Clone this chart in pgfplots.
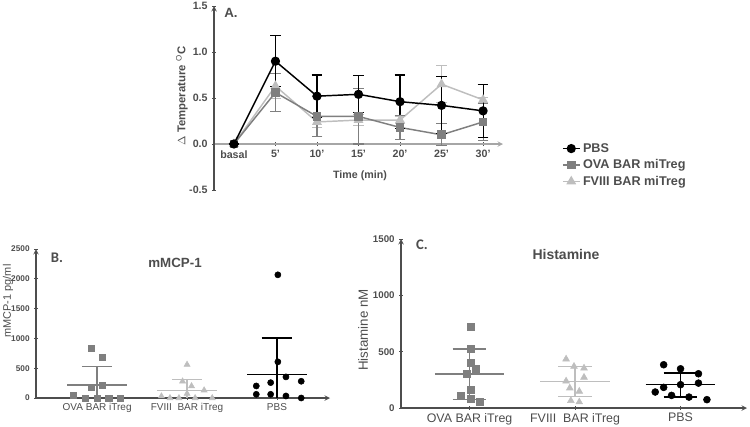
\documentclass[border=0pt]{standalone}
\usepackage{pgfplots}
\pgfplotsset{compat=1.18}
\usepackage{fontspec}
\setmainfont{Liberation Sans}
\newfontfamily\calfont{Carlito}
\definecolor{ova}{HTML}{7F7F7F}
\definecolor{fviii}{HTML}{BEBEBE}
\definecolor{axgray}{HTML}{4D4D4D}

\pgfplotsset{
  panel/.style={
    scale only axis, anchor=south west, clip=false,
    tick align=outside, major tick length=2.5pt,
    every tick/.style={axgray, line width=0.6pt},
    axis line style={-, axgray, line width=0.8pt},
    /pgf/number format/1000 sep={},
    /pgf/number format/assume math mode=true,
    scaled y ticks=false,
  },
  meanline/.style={mark=none, line width=1pt},
}

\begin{document}
\begin{tikzpicture}
\path[use as bounding box] (0pt,0pt) rectangle (562.5pt,319.5pt);

% ---------------- A. temperature ----------------
\begin{axis}[panel,
  at={(160.5pt,177pt)}, width=216.75pt, height=138pt,
  xmin=-0.48, xmax=6.48, ymin=-0.5, ymax=1.5,
  axis y line=left, axis x line=middle,
  x axis line style={gray!70},
  xtick={0,...,6}, xticklabels={basal,5',10',15',20',25',30'},
  ytick={-0.5,0,0.5,1,1.5},
  yticklabel style={/pgf/number format/.cd,fixed,fixed zerofill,precision=1},
  tick label style={font=\fontsize{8}{9}\selectfont\bfseries, text=axgray},
  reverse legend,
  legend cell align=left,
  legend image code/.code={
    \draw[mark repeat=2, mark phase=2] plot coordinates {(0cm,0cm) (0.22cm,0cm) (0.44cm,0cm)};},
  legend style={at={(axis description cs:1.19,0.285)}, anchor=north west,
    draw=none, fill=none, font=\fontsize{9.5}{11}\selectfont\bfseries,
    row sep=0pt, text=axgray},
]
% FVIII BAR miTreg
\addplot+[fviii, line width=1.1pt, mark=triangle*, mark size=3.2pt,
  mark options={fill=fviii, draw=fviii},
  error bars/.cd, y dir=both, y explicit,
  error bar style={fviii, line width=0.8pt},
  error mark options={rotate=90, mark size=4pt, fviii, line width=0.8pt}]
  coordinates {
  (0,0) +- (0,0)
  (1,0.63) +- (0,0.14)
  (2,0.24) +- (0,0.06)
  (3,0.26) +- (0,0.06)
  (4,0.26) +- (0,0.04)
  (5,0.65) +- (0,0.20)
  (6,0.48) +- (0,0.03)
  };
% OVA BAR miTreg
\addplot+[ova, line width=1.1pt, mark=square*, mark size=2.7pt,
  mark options={fill=ova, draw=ova},
  error bars/.cd, y dir=both, y explicit,
  error bar style={ova, line width=0.8pt},
  error mark options={rotate=90, mark size=4pt, ova, line width=0.8pt}]
  coordinates {
  (0,0) +- (0,0)
  (1,0.56) +- (0,0.21)
  (2,0.30) +- (0,0.22)
  (3,0.30) +- (0,0.30)
  (4,0.18) +- (0,0.13)
  (5,0.10) +- (0,0.12)
  (6,0.24) +- (0,0.20)
  };
% PBS
\addplot+[black, line width=1.1pt, mark=*, mark size=2.9pt,
  mark options={fill=black, draw=black},
  error bars/.cd, y dir=both, y explicit,
  error bar style={black, line width=0.8pt},
  error mark options={rotate=90, mark size=4pt, black, line width=0.8pt}]
  coordinates {
  (0,0) +- (0,0)
  (1,0.90) +- (0,0.28)
  (2,0.52) +- (0,0.23)
  (3,0.54) +- (0,0.20)
  (4,0.46) +- (0,0.29)
  (5,0.42) +- (0,0.31)
  (6,0.36) +- (0,0.29)
  };
\legend{FVIII BAR miTreg, OVA BAR miTreg, PBS}
\end{axis}
\node[font=\fontsize{10}{11}\selectfont\bfseries, text=axgray] at (173.25pt,309.75pt) {A.};
\node[font=\fontsize{8}{9}\selectfont\bfseries, text=axgray] at (270pt,187.5pt) {Time (min)};
\node[rotate=90, font=\fontsize{8.5}{9}\selectfont\bfseries, text=axgray] at (136.5pt,247.5pt)
  {$\Delta$ Temperature $^{\mathrm{O}}$C};

% ---------------- B. mMCP-1 ----------------
\begin{axis}[panel,
  at={(27pt,21pt)}, width=220.5pt, height=111.75pt,
  xmin=-0.68, xmax=2.59, ymin=0, ymax=2500,
  axis lines=left,
  xtick={0,1,2}, xticklabels={OVA BAR iTreg, FVIII\ \ BAR iTreg, PBS},
  ytick={0,500,1000,1500,2000,2500},
  x tick label style={font=\fontsize{7.5}{8}\selectfont, text=axgray, yshift=1pt},
  y tick label style={font=\fontsize{6.2}{7}\selectfont\bfseries, text=axgray},
]
% OVA
\addplot[only marks, mark=square*, mark size=2.3pt, ova] coordinates {
  (-0.27,40) (-0.13,0) (0,0) (0.13,0) (0.26,0)
  (-0.07,830) (0.06,685) (-0.07,185) (0.06,208)};
\addplot[meanline, ova] coordinates {(-0.33,216) (0.33,216)};
\addplot[meanline, ova] coordinates {(0,0) (0,534)};
\addplot[meanline, ova] coordinates {(-0.17,534) (0.17,534)};
% FVIII
\addplot[only marks, mark=triangle*, mark size=2.6pt, fviii] coordinates {
  (0.715,30) (0.81,0) (0.91,0) (1,73) (1.09,0) (1.28,0)
  (0.95,280) (1.05,200) (1.19,130) (1,560)};
\addplot[meanline, fviii] coordinates {(0.67,127) (1.33,127)};
\addplot[meanline, fviii] coordinates {(1,0) (1,309)};
\addplot[meanline, fviii] coordinates {(0.83,309) (1.17,309)};
% PBS
\addplot[only marks, mark=*, mark size=2.3pt, black] coordinates {
  (1.77,202) (1.77,62) (1.93,258) (1.93,62) (2.01,607)
  (2.01,2067) (2.10,354) (2.10,34) (2.27,281) (2.27,0)};
\addplot[meanline, black] coordinates {(1.67,393) (2.33,393)};
\addplot[meanline, black] coordinates {(2,0) (2,1008)};
\addplot[meanline, black] coordinates {(1.83,1008) (2.17,1008)};
\end{axis}
\node[font=\calfont\fontsize{11}{12}\selectfont\bfseries, text=axgray] at (42.75pt,126pt) {B.};
\node[font=\fontsize{10}{11}\selectfont\bfseries, text=axgray] at (131.25pt,122.25pt) {mMCP-1};
\node[rotate=90, font=\fontsize{8.2}{9}\selectfont, text=axgray] at (6pt,93.75pt) {mMCP-1 pg/ml};

% ---------------- C. Histamine ----------------
\begin{axis}[panel,
  at={(300.75pt,13.5pt)}, width=259.5pt, height=126.75pt,
  xmin=-0.65, xmax=2.63, ymin=0, ymax=1500,
  axis lines=left,
  xtick={0,1,2}, xticklabels={OVA BAR iTreg, FVIII\ \ BAR iTreg, PBS},
  ytick={0,500,1000,1500},
  x tick label style={font=\fontsize{9.3}{10}\selectfont, text=axgray, yshift=1pt},
  y tick label style={font=\fontsize{7.3}{8}\selectfont\bfseries, text=axgray},
]
% OVA
\addplot[only marks, mark=square*, mark size=2.6pt, ova] coordinates {
  (0.01,723) (0.01,525) (0.01,404) (-0.03,304) (0.06,348)
  (-0.08,112) (0.01,162) (0.01,83) (0.10,56)};
\addplot[meanline, ova] coordinates {(-0.33,302) (0.33,302)};
\addplot[meanline, ova] coordinates {(0,74) (0,525)};
\addplot[meanline, ova] coordinates {(-0.16,525) (0.16,525)};
\addplot[meanline, ova] coordinates {(-0.16,74) (0.16,74)};
% FVIII
\addplot[only marks, mark=triangle*, mark size=2.9pt, fviii] coordinates {
  (0.915,434) (0.99,369) (1.085,354) (0.915,239) (1.085,272)
  (0.95,177) (1.04,148) (0.96,65) (1.04,53)};
\addplot[meanline, fviii] coordinates {(0.67,235) (1.33,235)};
\addplot[meanline, fviii] coordinates {(1,103) (1,369)};
\addplot[meanline, fviii] coordinates {(0.84,369) (1.16,369)};
\addplot[meanline, fviii] coordinates {(0.84,103) (1.16,103)};
% PBS
\addplot[only marks, mark=*, mark size=2.6pt, black] coordinates {
  (1.84,384) (2,348) (2.17,304) (1.84,183) (2,207)
  (2.17,221) (1.76,142) (1.915,112) (2.08,97) (2.25,74)};
\addplot[meanline, black] coordinates {(1.67,207) (2.33,207)};
\addplot[meanline, black] coordinates {(2,97) (2,310)};
\addplot[meanline, black] coordinates {(1.84,310) (2.16,310)};
\addplot[meanline, black] coordinates {(1.84,97) (2.16,97)};
\end{axis}
\node[font=\calfont\fontsize{11}{12}\selectfont\bfseries, text=axgray] at (316.5pt,135.75pt) {C.};
\node[font=\fontsize{10.5}{12}\selectfont\bfseries, text=axgray] at (424.5pt,129pt) {Histamine};
\node[rotate=90, font=\fontsize{10}{11}\selectfont, text=axgray] at (272.25pt,72pt) {Histamine nM};
\end{tikzpicture}
\end{document}
